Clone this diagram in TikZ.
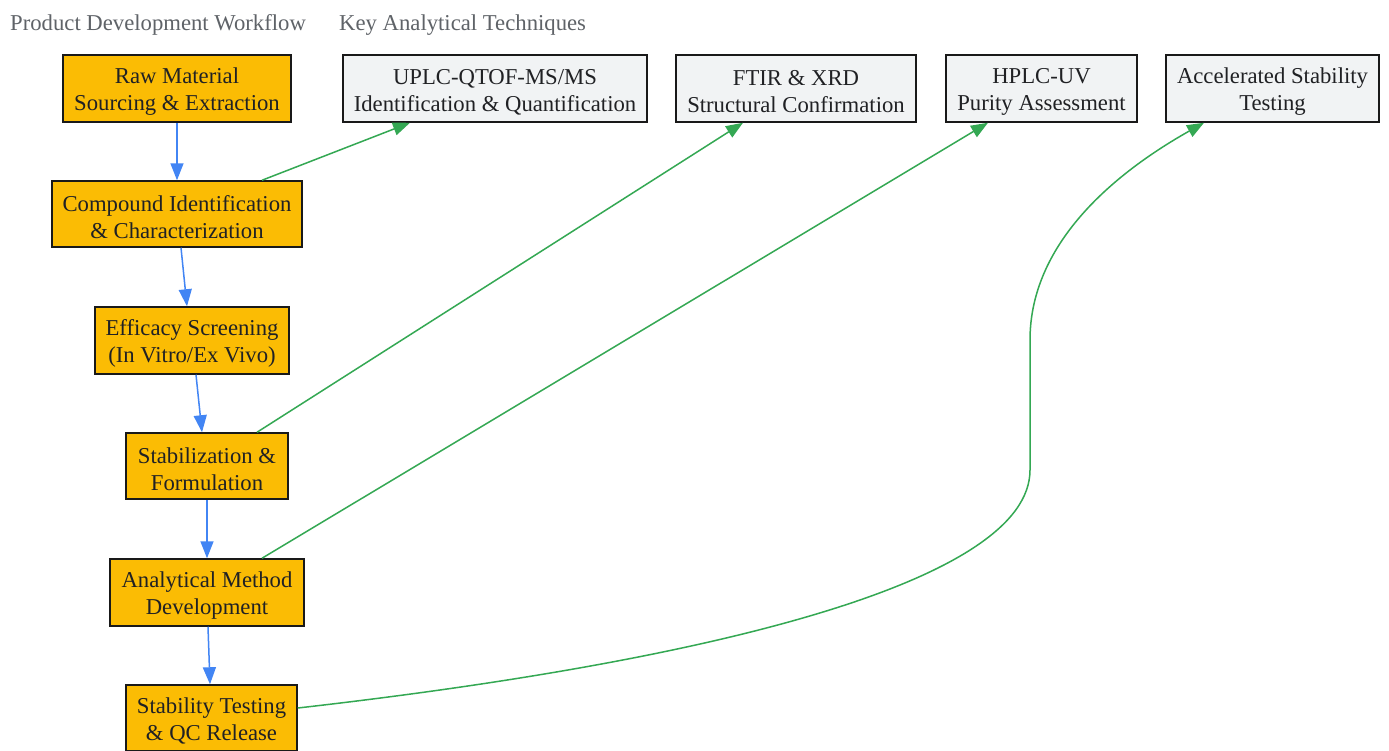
\documentclass[tikz,border=0pt]{standalone}
\usepackage{fontspec}
\setmainfont{Liberation Serif}
\usetikzlibrary{arrows.meta}
\definecolor{orangeY}{HTML}{FBBC04}
\definecolor{grayF}{HTML}{F1F3F4}
\definecolor{blueA}{HTML}{4285F4}
\definecolor{greenA}{HTML}{34A853}
\definecolor{titleG}{HTML}{5F6368}
\definecolor{txtC}{HTML}{202124}
\newcommand{\tstrut}{\rule{0pt}{22pt}}
\begin{document}
\begin{tikzpicture}[x=1pt,y=-1pt,
  box/.style={draw=black!90, line width=1.5pt, align=center, inner sep=0pt, text=txtC, font=\fontsize{22.7}{27}\selectfont},
  wf/.style={box, fill=orangeY},
  tech/.style={box, fill=grayF},
  flow/.style={blueA, line width=1.5pt, -{Triangle[length=17pt,width=13pt]}},
  link/.style={greenA, line width=1.5pt, -{Triangle[length=17pt,width=13pt]}},
  ttl/.style={text=titleG, font=\fontsize{22.7}{27}\selectfont, anchor=base west, inner sep=0pt}]
\useasboundingbox (0,0) rectangle (1389,750);
\fill[white] (0,0) rectangle (1389,750);

\node[ttl] (t1) at (10,30) {Product Development Workflow};
\node[ttl] (t2) at (339,30) {Key Analytical Techniques};

\node[wf, minimum width=228pt, minimum height=67pt] (raw) at (177,88.5) {\tstrut Raw Material\\Sourcing \& Extraction};
\node[wf, minimum width=250pt, minimum height=66pt] (comp) at (177,214) {\tstrut Compound Identification\\\& Characterization};
\node[wf, minimum width=194pt, minimum height=67pt] (eff) at (192,340.5) {\tstrut Efficacy Screening\\(In Vitro/Ex Vivo)};
\node[wf, minimum width=162pt, minimum height=66pt] (stab) at (207,466) {\tstrut Stabilization \&\\Formulation};
\node[wf, minimum width=194pt, minimum height=67pt] (ana) at (207,592.5) {\tstrut Analytical Method\\Development};
\node[wf, minimum width=171pt, minimum height=66pt] (stq) at (211.5,718) {\tstrut Stability Testing\\\& QC Release};

\node[tech, minimum width=304pt, minimum height=67pt] (uplc) at (495,88.5) {\tstrut UPLC-QTOF-MS/MS\\Identification \& Quantification};
\node[tech, minimum width=240pt, minimum height=67pt] (ftir) at (796,88.5) {\tstrut FTIR \& XRD\\Structural Confirmation};
\node[tech, minimum width=191pt, minimum height=67pt] (hplc) at (1041.5,88.5) {\tstrut HPLC-UV\\Purity Assessment};
\node[tech, minimum width=213pt, minimum height=67pt] (acc) at (1272.5,88.5) {\tstrut Accelerated Stability\\Testing};

\draw[flow] (raw.south) -- (comp.north);
\draw[flow] ([xshift=4pt]comp.south) -- ([xshift=-5pt]eff.north);
\draw[flow] ([xshift=4pt]eff.south) -- ([xshift=-5pt]stab.north);
\draw[flow] (stab.south) -- (ana.north);
\draw[flow] ([xshift=1pt]ana.south) -- ([xshift=-1.5pt]stq.north);

\draw[link] ([xshift=85pt]comp.north) -- ([xshift=-85pt]uplc.south);
\draw[link] ([xshift=50pt]stab.north) -- ([xshift=-53pt]ftir.south);
\draw[link] ([xshift=55pt]ana.north) -- ([xshift=-53.5pt]hplc.south);
\coordinate (c1) at (1030,470);
\coordinate (c2) at (1030,340);
\draw[link] ([yshift=10pt]stq.east) .. controls (720,660) and (1030,580) .. (c1) -- (c2) .. controls (1030,240) and (1120,170) .. ([xshift=-68.5pt]acc.south);
\end{tikzpicture}
\end{document}
